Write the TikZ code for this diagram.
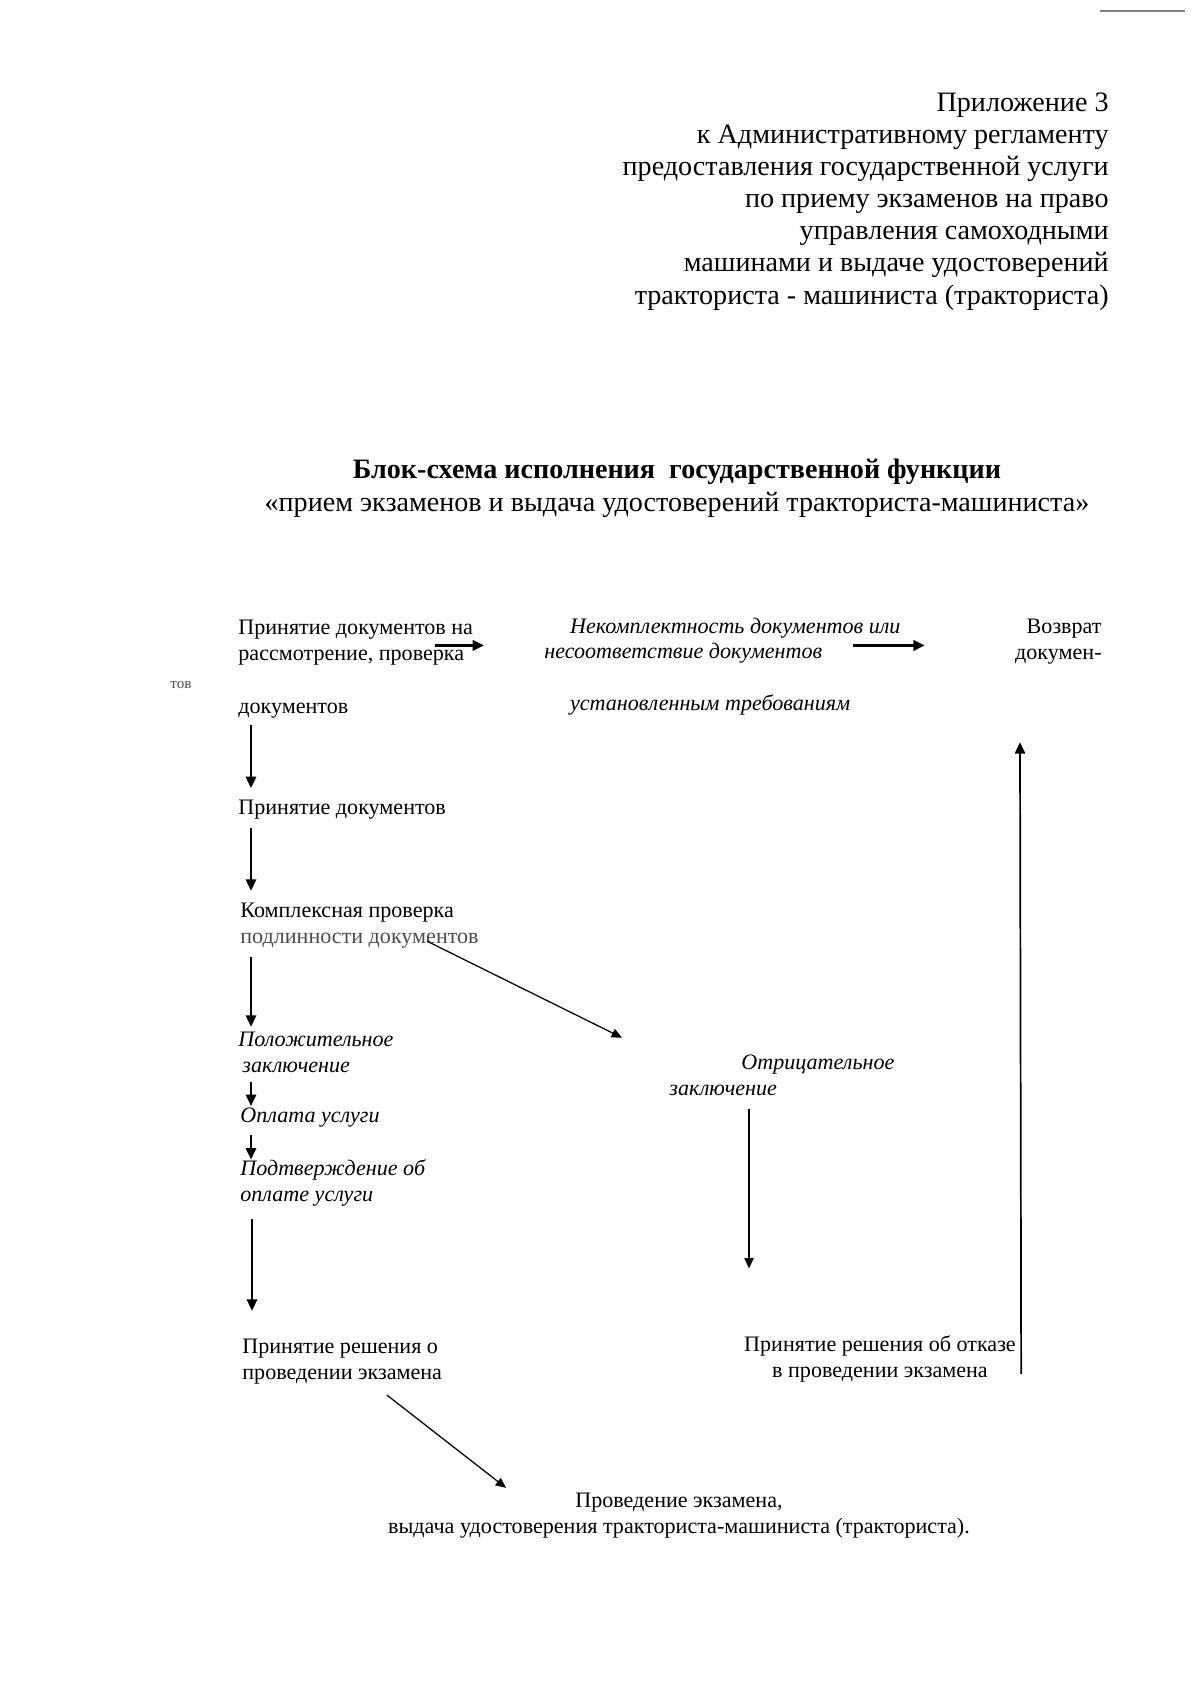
\documentclass[tikz,border=0pt]{standalone}
\usepackage{fontspec}
\setmainfont{Liberation Serif}
\usepackage{tikz}
\usetikzlibrary{calc, arrows.meta}

\begin{document}
\begin{tikzpicture}[x=0.0175cm, y=-0.0175cm,
    txt/.style={inner sep=0pt, align=#1, font=\fontsize{11}{12.6}\selectfont},
    txt/.default=left,
    itx/.style={txt, font=\fontsize{11}{12.6}\selectfont\itshape},
    arrow/.style={-{Triangle[length=2mm, width=1.8mm]}, line width=0.4mm},
    thinarrow/.style={-{Triangle[length=1.8mm, width=1.6mm]}, line width=0.22mm}
]
\useasboundingbox (0,0) rectangle (1200,1697);
\draw[gray, line width=0.2mm] (1100,11) -- (1185,11);

\node[anchor=base east, inner sep=0pt, align=right, font=\fontsize{14}{16}\selectfont] (annex) at (1109,304) {Приложение 3\\к Административному регламенту\\предоставления государственной услуги\\по приему экзаменов на право\\управления самоходными\\машинами и выдаче удостоверений\\тракториста - машиниста (тракториста)};
\node[anchor=base, inner sep=0pt, align=center, font=\fontsize{14}{16.4}\selectfont] (title) at (677,511) {\textbf{Блок-схема исполнения\ \ государственной функции}\\«прием экзаменов и выдача удостоверений тракториста-машиниста»};

\node[txt, anchor=base west] (intake) at (238,660) {Принятие документов на\\рассмотрение, проверка};
\node[txt, anchor=base west] (intakeb) at (238,713) {документов};
\node[inner sep=0pt, anchor=base west, font=\fontsize{7.5}{9}\selectfont, text=black!70] (tail) at (170,688) {тов};
\node[itx, anchor=base west] (incomplete) at (544,710) {\hspace*{4.5mm}Некомплектность документов или\\несоответствие документов\\[4.5mm]\hspace*{4.5mm}установленным требованиям};
\node[txt=right, anchor=base east] (returned) at (1102,659) {Возврат\\докумен-};

\node[txt, anchor=base west] (accepted) at (238,814) {Принятие документов};
\node[txt, anchor=base west] (check) at (240,943) {Комплексная проверка\\{\color{black!70}подлинности документов}};
\node[itx, anchor=base west] (positive) at (238,1072) {Положительное\\\hspace*{0.7mm}заключение};
\node[itx, anchor=base west] (payment) at (240,1122) {Оплата услуги};
\node[itx, anchor=base west] (confirm) at (240,1201) {Подтверждение об\\оплате услуги};
\node[txt, anchor=base west] (admit) at (242,1379) {Принятие решения о\\проведении экзамена};
\node[txt=center, anchor=base] (exam) at (679,1533) {Проведение экзамена,\\выдача удостоверения тракториста-машиниста (тракториста).};

\node[itx, anchor=base west] (negative) at (669,1095) {\hspace*{12.6mm}Отрицательное\\заключение};
\node[txt=center, anchor=base] (refusal) at (880,1377) {Принятие решения об отказе\\в проведении экзамена};

\draw[arrow, line width=0.5mm] ($(intake.east)+(-38,3)$) -- ($(incomplete.west |- intake.east)+(-60,3)$);
\draw[arrow, line width=0.5mm] ($(incomplete.east |- intake.east)+(-48,3)$) -- ($(returned.west |- intake.east)+(-90,3)$);

\draw[arrow] ($(intakeb.south west)+(13,7)$) -- ($(accepted.north west)+(13,-11)$);
\draw[arrow] ($(accepted.south west)+(13,9)$) -- ($(check.north west)+(11,-12)$);
\draw[arrow] ($(check.south west)+(11,9)$) -- ($(positive.north west)+(13,-5)$);
\draw[arrow] ($(positive.south west)+(13,9)$) -- ($(payment.north west)+(11,-1)$);
\draw[arrow] ($(payment.south west)+(11,8)$) -- ($(confirm.north west)+(11,0)$);
\draw[arrow] ($(confirm.south west)+(12,13)$) -- ($(admit.north west)+(10,-28)$);

\draw[thinarrow] ($(check.south west)+(187,-7)$) -- ($(negative.north west)+(-47,-17)$);
\draw[thinarrow] ($(admit.south west)+(145,11)$) -- ($(exam.north)+(-173,-5)$);
\draw[thinarrow] ($(negative.south west)+(80,13)$) -- ($(refusal.north)+(-131,-67)$);
\draw[arrow, line width=0.3mm] ($(refusal.south east)+(5,-8)$) -- ($(returned.south east)+(-82,78)$);
\end{tikzpicture}
\end{document}
